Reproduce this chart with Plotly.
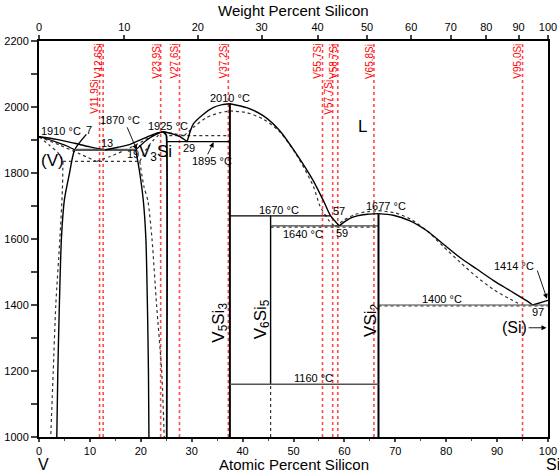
import plotly.graph_objects as go

# ---------------- data (x = atomic % Si, t = temperature in °C) ----------------
# solid (assessed) lines
liq_v_x = [0, 3.5, 7, 10, 13]
liq_v_t = [1910, 1902, 1890, 1879, 1870]
sol_v_x = [0, 3, 5.5, 7]
sol_v_t = [1910, 1896, 1882, 1870]
solv_v_x = [9.3, 7, 6, 5, 4.4, 4.0, 3.7, 3.5]
solv_v_t = [1917, 1870, 1800, 1720, 1600, 1400, 1200, 1000]
eut1870_x = [7, 19]
eut1870_t = [1870, 1870]
liq_v3si_l_x = [13, 15.5, 17.9, 21.2, 23, 24.4]
liq_v3si_l_t = [1870, 1878, 1887, 1909, 1920, 1925]
liq_v3si_r_x = [24.4, 26.4, 27.7, 29.1]
liq_v3si_r_t = [1925, 1918, 1910, 1895]
sol_v3si_l_x = [19, 21, 23, 24.4]
sol_v3si_l_t = [1870, 1898, 1917, 1925]
solv_v3si_x = [19, 19.8, 20.5, 21.0, 21.3, 21.5, 21.6]
solv_v3si_t = [1870, 1800, 1715, 1600, 1400, 1200, 1000]
v3si_r_x = [24.4, 25.0, 25.1, 25.1]
v3si_r_t = [1925, 1915, 1895, 1000]
eut1895_x = [25.1, 37.5]
eut1895_t = [1895, 1895]
liq_v5si3_l_x = [29.1, 30.3, 32.3, 34.2, 36, 37.5]
liq_v5si3_l_t = [1895, 1948, 1978, 1998, 2007, 2010]
v5si3_x = [37.5, 37.5]
v5si3_t = [1000, 2010]
liq_v5si3_r_x = [37.5, 40.8, 44.1, 47.3, 50.6, 53.9, 56, 57.3, 59]
liq_v5si3_r_t = [2010, 1998, 1973, 1928, 1857, 1776, 1712, 1670, 1640]
per1670_x = [37.5, 57.3]
per1670_t = [1670, 1670]
v6si5_x = [45.5, 45.5]
v6si5_t = [1160, 1670]
v6si5_low_t = [1000, 1160]
eut1640_x = [45.5, 66.7]
eut1640_t = [1640, 1640]
liq_vsi2_l_x = [59, 60, 61, 62.5, 64.5, 66.7]
liq_vsi2_l_t = [1640, 1652, 1662, 1670, 1675, 1677]
vsi2_x = [66.7, 66.7]
vsi2_t = [1000, 1677]
eut1160_x = [37.5, 66.7]
eut1160_t = [1160, 1160]
liq_vsi2_r_x = [66.7, 69.6, 72.9, 76.2, 79.4, 82.7, 86.0, 89.3, 92.5, 95.8, 97]
liq_vsi2_r_t = [1677, 1672, 1655, 1625, 1585, 1544, 1509, 1474, 1444, 1413, 1400]
liq_si_x = [97, 100]
liq_si_t = [1400, 1414]
eut1400_x = [66.7, 100]
eut1400_t = [1400, 1400]

# dotted (alternative calculation) lines
d_liq_v_x = [0, 4, 8, 11.3]
d_liq_v_t = [1910, 1885, 1858, 1835]
d_sol_v_x = [0, 2, 3.8, 4.7]
d_sol_v_t = [1910, 1885, 1860, 1835]
d_solv_v_x = [4.7, 4.6, 4.1, 3.3, 2.8, 2.3]
d_solv_v_t = [1835, 1750, 1600, 1400, 1200, 1000]
d_eut_x = [4.7, 19.8]
d_eut_t = [1835, 1835]
d_liq_v3si_l_x = [11.3, 14, 17, 20, 22.5, 24.4]
d_liq_v3si_l_t = [1835, 1850, 1870, 1893, 1915, 1925]
d_sol_v3si_l_x = [19.8, 21, 22.5, 24]
d_sol_v3si_l_t = [1835, 1870, 1900, 1922]
d_solv_v3si_x = [19.8, 20.6, 21.4, 22.2, 23.1, 24.1, 24.6]
d_solv_v3si_t = [1835, 1760, 1715, 1600, 1400, 1200, 1000]
d_liq_v3si_r_x = [24.4, 26, 28.5]
d_liq_v3si_r_t = [1925, 1921, 1913]
d_eut1913_x = [25.6, 37.5]
d_eut1913_t = [1913, 1913]
d_liq_v5si3_l_x = [28.5, 30.3, 32.9, 35.6, 37.5]
d_liq_v5si3_l_t = [1913, 1938, 1968, 1983, 1988]
d_liq_v5si3_r_x = [37.5, 40.8, 44.1, 47.3, 50.6, 53.9, 55.2, 57, 58.2]
d_liq_v5si3_r_t = [1988, 1983, 1963, 1925, 1855, 1760, 1700, 1655, 1637]
d_eut1640_x = [45.5, 66.7]
d_eut1640_t = [1636, 1636]
d_liq_vsi2_l_x = [58.2, 60, 62, 64.5, 66.7]
d_liq_vsi2_l_t = [1637, 1658, 1674, 1683, 1686]
d_liq_vsi2_r_x = [66.7, 70, 73, 76.2, 79.4, 82.7, 86, 89.3, 92.5, 94.8]
d_liq_vsi2_r_t = [1686, 1679, 1660, 1625, 1578, 1530, 1485, 1447, 1418, 1400]
d_eut1400_x = [66.7, 100]
d_eut1400_t = [1397, 1397]

# red compound-composition markers (atomic % Si)
red_x = [11.9, 12.6, 23.9, 27.6, 37.2, 55.7, 57.7, 58.7, 65.8, 95.0]
red_text = ["V11.9Si", "V12.6Si", "V23.9Si", "V27.6Si", "V37.2Si",
            "V55.7Si", "V57.7Si", "V58.7Si", "V65.8Si", "V95.0Si"]
red_low = [11.9, 57.7]

# axis ticks
at_ticks = [0, 10, 20, 30, 40, 50, 60, 70, 80, 90, 100]
wt_ticks = [0, 10, 20, 30, 40, 50, 60, 70, 80, 90, 100]
t_ticks = [1000, 1200, 1400, 1600, 1800, 2000, 2200]

M_V, M_SI = 50.9415, 28.0855


def wt_to_at(w):
    if w >= 100:
        return 100.0
    a = w / M_SI
    b = (100 - w) / M_V
    return 100 * a / (a + b)


fig = go.Figure()

FONT = "Liberation Sans, Arial, sans-serif"


def add_line(x, t, dash="solid", width=1.4, color="black", spline=False):
    fig.add_trace(go.Scatter(
        x=x, y=t, mode="lines",
        line=dict(color=color, width=width, dash=dash,
                  shape="spline" if spline else "linear", smoothing=0.7),
        hoverinfo="skip", showlegend=False))


# red vertical dotted lines
for rx in red_x:
    add_line([rx, rx], [1000, 2200], dash="dot", width=1.6, color="rgba(255,40,40,0.85)")

# dotted lines
dotted = [
    (d_liq_v_x, d_liq_v_t, True), (d_sol_v_x, d_sol_v_t, True),
    (d_solv_v_x, d_solv_v_t, True), (d_eut_x, d_eut_t, False),
    (d_liq_v3si_l_x, d_liq_v3si_l_t, True), (d_sol_v3si_l_x, d_sol_v3si_l_t, True),
    (d_solv_v3si_x, d_solv_v3si_t, True), (d_liq_v3si_r_x, d_liq_v3si_r_t, True),
    (d_eut1913_x, d_eut1913_t, False), (d_liq_v5si3_l_x, d_liq_v5si3_l_t, True),
    (d_liq_v5si3_r_x, d_liq_v5si3_r_t, True), (d_eut1640_x, d_eut1640_t, False),
    (d_liq_vsi2_l_x, d_liq_vsi2_l_t, True), (d_liq_vsi2_r_x, d_liq_vsi2_r_t, True),
    (d_eut1400_x, d_eut1400_t, False), (v6si5_x, v6si5_low_t, False),
]
for x, t, sp in dotted:
    add_line(x, t, dash="dot", width=1.2, color="#333", spline=sp)

# solid lines
solid = [
    (liq_v_x, liq_v_t, True, 1.4, "black"), (sol_v_x, sol_v_t, True, 1.2, "black"),
    (solv_v_x, solv_v_t, True, 1.4, "black"), (eut1870_x, eut1870_t, False, 2.4, "#555"),
    (liq_v3si_l_x, liq_v3si_l_t, True, 1.4, "black"), (liq_v3si_r_x, liq_v3si_r_t, True, 1.4, "black"),
    (sol_v3si_l_x, sol_v3si_l_t, True, 1.2, "black"), (solv_v3si_x, solv_v3si_t, True, 1.4, "black"),
    (v3si_r_x, v3si_r_t, True, 1.8, "black"), (eut1895_x, eut1895_t, False, 1.4, "black"),
    (liq_v5si3_l_x, liq_v5si3_l_t, True, 1.4, "black"), (v5si3_x, v5si3_t, False, 2.0, "black"),
    (liq_v5si3_r_x, liq_v5si3_r_t, True, 1.4, "black"), (per1670_x, per1670_t, False, 1.2, "black"),
    (v6si5_x, v6si5_t, False, 1.4, "black"), (eut1640_x, eut1640_t, False, 1.2, "#444"),
    (liq_vsi2_l_x, liq_vsi2_l_t, True, 1.4, "black"), (vsi2_x, vsi2_t, False, 2.0, "black"),
    (eut1160_x, eut1160_t, False, 1.4, "#555"), (liq_vsi2_r_x, liq_vsi2_r_t, True, 1.4, "black"),
    (liq_si_x, liq_si_t, False, 1.4, "black"), (eut1400_x, eut1400_t, False, 1.2, "#444"),
]
for x, t, sp, w, c in solid:
    add_line(x, t, width=w, color=c, spline=sp)

# dummy trace for top axis
fig.add_trace(go.Scatter(x=[0], y=[1000], xaxis="x2", mode="markers",
                         marker=dict(opacity=0), hoverinfo="skip", showlegend=False))

ann = []


def txt(s, x, t, size=11, color="black", **kw):
    d = dict(text=s, x=x, y=t, xref="x", yref="y", showarrow=False,
             font=dict(family=FONT, size=size, color=color))
    d.update(kw)
    ann.append(d)


def arrow(x0, t0, x1, t1):
    ann.append(dict(text="", x=x1, y=t1, ax=x0, ay=t0, xref="x", yref="y",
                    axref="x", ayref="y", showarrow=True, arrowhead=2,
                    arrowsize=1.1, arrowwidth=0.9, arrowcolor="black"))


# red labels
for rx, rt in zip(red_x, red_text):
    txt(rt, rx, 2030 if rx in red_low else 2139, size=10, color="red",
        textangle=-90, xshift=-5)

txt("1910 °C", 4.3, 1926)
txt("7", 9.9, 1930)
txt("1870 °C", 16.0, 1960)
arrow(17.2, 1943, 19.2, 1870)
txt("13", 13.4, 1892)
txt("19", 18.4, 1857)
txt("V<sub>3</sub>Si", 22.9, 1862, size=17)
txt("(V)", 2.6, 1837, size=17)
txt("1925 °C", 25.4, 1943)
txt("29", 29.5, 1875)
txt("1895 °C", 33.9, 1837)
arrow(33.0, 1852, 34.3, 1893)
txt("2010 °C", 37.5, 2028)
txt("L", 63.6, 1940, size=17)
txt("1670 °C", 47.2, 1688)
txt("57", 58.9, 1686)
txt("1640 °C", 51.9, 1615)
txt("59", 59.6, 1617)
txt("1677 °C", 68.2, 1701)
txt("1414 °C", 93.4, 1519)
arrow(97.8, 1509, 99.8, 1419)
txt("1400 °C", 79.1, 1419)
txt("97", 98.1, 1378)
txt("(Si)", 93.5, 1331, size=16)
arrow(95.9, 1331, 99.7, 1331)
txt("V<sub>5</sub>Si<sub>3</sub>", 35.6, 1347, size=17, textangle=-90)
txt("V<sub>6</sub>Si<sub>5</sub>", 43.7, 1358, size=17, textangle=-90)
txt("VSi<sub>2</sub>", 65.3, 1353, size=17, textangle=-90)
txt("1160 °C", 53.9, 1178)

# axis titles and element labels
ann.append(dict(text="Atomic Percent Silicon", x=0.5, y=0, xref="paper", yref="paper",
                xanchor="center", yanchor="middle", yshift=-27, showarrow=False,
                font=dict(family=FONT, size=15, color="black")))
ann.append(dict(text="Weight Percent Silicon", x=0.5, y=1, xref="paper", yref="paper",
                xanchor="center", yanchor="middle", yshift=31, showarrow=False,
                font=dict(family=FONT, size=15, color="black")))
ann.append(dict(text="V", x=0, y=0, xref="paper", yref="paper", xanchor="center",
                yanchor="middle", yshift=-27, xshift=4, showarrow=False,
                font=dict(family=FONT, size=16, color="black")))
ann.append(dict(text="Si", x=1, y=0, xref="paper", yref="paper", yanchor="middle",
                xanchor="left", yshift=-27, xshift=-4, showarrow=False,
                font=dict(family=FONT, size=16, color="black")))

fig.update_layout(
    width=559, height=474,
    margin=dict(l=39, r=11, t=41, b=37, autoexpand=False),
    paper_bgcolor="white", plot_bgcolor="white",
    font=dict(family=FONT, size=11, color="black"),
    annotations=ann,
    xaxis=dict(range=[0, 100], tickvals=at_ticks, ticks="outside", ticklen=3,
               tickwidth=1.5, showline=True, linewidth=2, linecolor="black",
               showgrid=False, zeroline=False, automargin=False,
               minor=dict(dtick=5, tick0=0, ticks="outside", ticklen=2, tickwidth=1.2,
                          showgrid=False),
               tickfont=dict(size=11)),
    xaxis2=dict(range=[0, 100], overlaying="x", side="top",
                tickvals=[wt_to_at(w) for w in wt_ticks],
                ticktext=[str(w) for w in wt_ticks], ticks="outside", ticklen=4,
                tickwidth=1.5, showline=True, linewidth=2, linecolor="black",
                showgrid=False, zeroline=False, automargin=False,
                tickfont=dict(size=11)),
    yaxis=dict(range=[1000, 2200], tickvals=t_ticks, ticks="outside", ticklen=6,
               tickwidth=1.5, showline=True, linewidth=2, linecolor="black",
               mirror=True, showgrid=False, zeroline=False, automargin=False,
               minor=dict(dtick=100, tick0=1000, ticks="outside", ticklen=6,
                          tickwidth=1.5, showgrid=False),
               tickfont=dict(size=11)),
)

# remove the default 8 px page margin so the figure sits at the window origin
fig.write_html("out.html", config={"displayModeBar": False},
               post_script="document.body.style.margin='0';")
